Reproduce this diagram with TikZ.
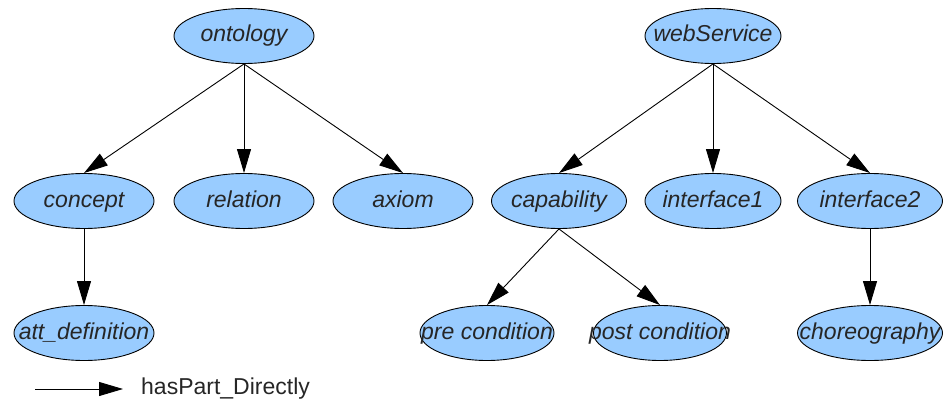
\documentclass[tikz,border=0pt]{standalone}
\usepackage{fontspec}
\setmainfont{Liberation Sans}
\usetikzlibrary{shapes.geometric,arrows.meta}
\definecolor{nodeblue}{RGB}{153,204,255}
\tikzset{
  ell/.style={ellipse, draw=black, line width=0.9pt, fill=nodeblue, inner sep=0pt,
    minimum width=140pt, minimum height=55pt, text height=16pt, text depth=4pt,
    font=\fontsize{23}{27}\selectfont\itshape, text=black!85},
  arr/.style={line width=0.9pt, -{Triangle[length=24pt,width=14pt]}},
}
\newcommand{\lbl}[1]{\makebox[0pt]{#1}}
\begin{document}
\begin{tikzpicture}[x=1pt,y=1pt]
\useasboundingbox (0,0) rectangle (945,-404);
\clip (0,0) rectangle (945,-404);
\node[ell] (ontology) at (244,-36) {\lbl{ontology}};
\node[ell] (concept) at (84,-201) {\lbl{concept}};
\node[ell] (relation) at (244,-201) {\lbl{relation}};
\node[ell] (axiom) at (403,-201) {\lbl{axiom}};
\node[ell] (attdef) at (84,-333) {\lbl{att\_definition}};
\node[ell, minimum width=136pt] (webservice) at (713,-36) {\lbl{webService}};
\node[ell, minimum width=135pt] (capability) at (559,-201) {\lbl{capability}};
\node[ell, minimum width=136pt] (interface1) at (713,-201) {\lbl{interface1}};
\node[ell, minimum width=145pt] (interface2) at (870,-201) {\lbl{interface2}};
\node[ell, minimum width=134pt] (pre) at (487,-333) {\lbl{pre condition}};
\node[ell, minimum width=133pt] (post) at (660,-333) {\lbl{post condition}};
\node[ell, minimum width=145pt] (choreo) at (870,-333) {\lbl{choreography}};
\draw[arr] (ontology.south) -- (concept.north);
\draw[arr] (ontology.south) -- (relation.north);
\draw[arr] (ontology.south) -- (axiom.north);
\draw[arr] (concept.south) -- (attdef.north);
\draw[arr] (webservice.south) -- (capability.north);
\draw[arr] (webservice.south) -- (interface1.north);
\draw[arr] (webservice.south) -- (interface2.north);
\draw[arr] (capability.south) -- (pre.north);
\draw[arr] (capability.south) -- (post.north);
\draw[arr] (interface2.south) -- (choreo.north);
\coordinate (leg1) at (35,-389);
\coordinate (leg2) at (123,-389);
\draw[arr] (leg1) -- (leg2);
\node[anchor=west, inner sep=0pt, font=\fontsize{23}{27}\selectfont, text=black!85] (legtext) at (141,-389) {hasPart\_Directly};
\end{tikzpicture}
\end{document}
